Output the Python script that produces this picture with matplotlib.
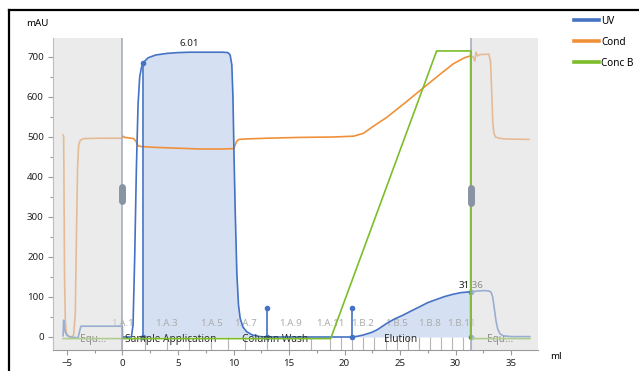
import matplotlib
matplotlib.use("Agg")
import matplotlib.pyplot as plt
import matplotlib.transforms as mtransforms
from matplotlib.lines import Line2D
import numpy as np

plt.rcParams["font.family"] = ["Noto Sans", "DejaVu Sans"]

# UV trace (mAU)
uv_ml = [-5.35, -5.3, -5.25, -5.15, -5.0, -4.7, -4.0, -3.9, -3.75, -0.02, 0.0, 0.8, 0.95,
         1.1, 1.25, 1.4, 1.55, 1.7, 1.88, 2.3, 3.0, 4.0, 5.0, 6.01, 7.5, 9.0, 9.5, 9.7, 9.85,
         9.95, 10.05, 10.15, 10.3, 10.45, 10.6, 10.85, 11.2, 11.7, 12.4, 13.0, 16.0, 20.7,
         21.2, 21.7, 22.5, 23.0, 23.8, 24.5, 25.3, 26.0, 26.8, 27.5, 28.3, 29.0, 29.8, 30.5,
         31.36, 32.0, 32.6, 33.0, 33.2, 33.35, 33.5, 33.65, 33.8, 34.0, 34.3, 35.0, 36.7]
uv_mau = [3, 42, 25, 12, 4, 0, -2, 10, 27, 27, 0, 0, 30,
          200, 420, 580, 650, 673, 686, 698, 705, 709, 711, 712, 712, 712, 711, 705, 680,
          600, 450, 320, 160, 80, 47, 25, 13, 5, 1, 0, 0, 0,
          2, 5, 12, 19, 34, 45, 55, 65, 76, 86, 94, 101, 107, 111,
          113, 115, 116, 115, 112, 100, 70, 40, 20, 8, 3, 1, 1]

# Conductivity trace, drawn on the mAU scale
cond_ml = [-5.35, -5.3, -5.27, -5.22, -5.15, -5.05, -4.9, -4.6, -4.4, -4.25, -4.15, -4.05,
           -3.95, -3.8, -3.5, -2.0, -0.05, 0.05, 0.2, 0.5, 1.0, 1.2, 1.4, 1.7, 3.0, 5.0, 7.0,
           9.0, 10.0, 10.15, 10.3, 10.5, 11.0, 13.0, 16.0, 19.0, 20.8, 21.7, 22.5, 23.8, 25.3,
           26.8, 28.3, 29.8, 30.8, 31.36, 31.6, 31.75, 31.85, 32.0, 32.2, 33.0, 33.15, 33.25,
           33.35, 33.45, 33.6, 33.9, 34.5, 36.6]
cond = [505, 500, 380, 150, 40, 10, 2, 0, 5, 60, 250, 420,
        480, 492, 496, 497, 497, 502, 499, 498, 496, 490, 478, 476, 474, 472, 470,
        470, 471, 480, 490, 494, 495, 497, 499, 500, 502, 509, 525, 549, 582,
        616, 650, 683, 698, 703, 700, 690, 712, 703, 706, 707, 690, 620,
        540, 510, 500, 497, 495, 494]

# Gradient, % B
concb_ml = [-5.35, 18.75, 28.3, 31.36, 31.36, 36.7]
concb_pct = [0, 0, 100, 100, 0, 0]

# Peaks and event markers
peak_ret = [6.01, 31.36]
peak_label_y = [733, 130]
peak1_range = (1.88, 12.4)
peak2_range = (20.7, 31.36)
stem_ml = [13.0, 20.7]
stem_top = [72, 72]

# Fractions
frac_ticks = [0, 2, 4, 6, 8, 9.5, 11, 13, 15, 17, 18.7, 19.7, 20.7, 21.7, 22.7, 23.7, 24.7,
              25.7, 26.7, 27.7, 28.7, 29.7, 30.7, 31.36]
frac_names = ["1.A.1", "1.A.3", "1.A.5", "1.A.7", "1.A.9", "1.A.11", "1.B.2", "1.B.5", "1.B.8", "1.B.11"]
frac_label_ml = [0.0, 4.0, 8.0, 11.1, 15.1, 18.7, 21.6, 24.7, 27.7, 30.5]

# Method phases
phase_names = ["Equ...", "Sample Application", "Column Wash", "Elution", "Equ..."]
phase_edges = [-5.35, 0.0, 8.7, 18.8, 31.36, 36.7]

BLUE = "#4472c4"
ORANGE = "#f0913a"
GREEN = "#7cbd2a"
AXC = "#9a9a9a"

fig = plt.figure(figsize=(6.39, 3.71), dpi=100)
ax = fig.add_axes([53 / 639, 21 / 371, 485 / 639, 312 / 371])
ax.set_xlim(-6.26, 37.43)
ax.set_ylim(-32.5, 747.5)

uv_ml = np.array(uv_ml)
uv_mau = np.array(uv_mau)

# peak areas
for lo, hi in (peak1_range, peak2_range):
    m = (uv_ml >= lo) & (uv_ml <= hi)
    ax.fill_between(uv_ml[m], 0, uv_mau[m], color=BLUE, alpha=0.22, lw=0, zorder=1)

ax.plot(cond_ml, cond, color=ORANGE, lw=1.2, zorder=3)
ax.plot(uv_ml, uv_mau, color=BLUE, lw=1.2, zorder=4)

# peak limits and markers
i1 = list(uv_ml).index(peak1_range[0])
i2 = list(uv_ml).index(peak2_range[1])
for x, top in ((uv_ml[i1], uv_mau[i1]), (uv_ml[i2], uv_mau[i2])):
    ax.plot([x, x], [0, top], color=BLUE, lw=1.2, marker="o", ms=3, zorder=4)
ax.plot(peak2_range[0], 0, marker="o", ms=3, color=BLUE, zorder=4)
ax.vlines(stem_ml, 0, stem_top, color=BLUE, lw=1.2, zorder=4)
ax.plot(stem_ml, stem_top, "o", color=BLUE, ms=3, zorder=4)
ax.plot(stem_ml[0], 0, "o", color=BLUE, ms=3, zorder=4)

for x, y in zip(peak_ret, peak_label_y):
    ax.text(x, y, f"{x:.2f}", ha="center", va="center", fontsize=7, color="#222222", zorder=4)

# fraction marks
ax.vlines(frac_ticks, -32.5, 0, color="#b5b5b5", lw=0.8, zorder=1)
for name, x in zip(frac_names, frac_label_ml):
    ax.text(x, 35, name, ha="center", va="center", fontsize=7, color="#ababab", zorder=2)

# phase names
for i, name in enumerate(phase_names):
    xc = (phase_edges[i] + phase_edges[i + 1]) / 2
    ax.text(xc, -6, name, ha="center", va="center", fontsize=7.3, color="#2a2a2a", zorder=5)

# axes styling
for s in ("top", "right"):
    ax.spines[s].set_visible(False)
for s in ("left", "bottom"):
    ax.spines[s].set_color(AXC)
    ax.spines[s].set_linewidth(0.8)
ax.set_xticks(np.arange(-5, 36, 5))
ax.set_xticks(np.arange(-5, 37.5, 2.5), minor=True)
ax.set_yticks(np.arange(0, 701, 100))
ax.set_yticks(np.arange(0, 740, 50), minor=True)
ax.tick_params(which="both", colors=AXC, labelcolor="#222222", labelsize=7, width=0.8)
ax.tick_params(which="major", length=3.6, pad=3)
ax.tick_params(which="minor", length=2.5)
ax.text(-0.01, 1.048, "mAU", transform=ax.transAxes, fontsize=7, ha="right", va="center")
ax.text(1.025, -0.022, "ml", transform=ax.transAxes, fontsize=7, ha="left", va="center")

# gradient on its own scale
ax2 = ax.twinx()
ax2.set_ylim(-3.96, 104.5)
ax2.set_axis_off()
ax2.plot(concb_ml, concb_pct, color=GREEN, lw=1.2, zorder=2)

# equilibration overlays and boundary handles
trans = mtransforms.blended_transform_factory(ax2.transData, ax2.transAxes)
ax2.axvspan(-6.26, 0, color="#dcdcdc", alpha=0.57, lw=0, zorder=5)
ax2.axvspan(31.36, 37.43, color="#dcdcdc", alpha=0.57, lw=0, zorder=5)
ax2.axvline(0, color="#a8b0bc", lw=1.2, zorder=6)
ax2.axvline(31.36, color="#a8b0bc", lw=1.2, zorder=6)
ax2.plot([31.36, 31.36], [0, 100], color=GREEN, lw=1.2, zorder=6)
for x, yc in ((0, 0.50), (31.36, 0.494)):
    ax2.plot([x, x], [yc - 0.024, yc + 0.024], transform=trans, color="#8893a3",
             lw=5, solid_capstyle="round", zorder=7)

# legend
handles = [Line2D([], [], color=BLUE, lw=2.6), Line2D([], [], color=ORANGE, lw=2.6),
           Line2D([], [], color=GREEN, lw=2.6)]
fig.legend(handles, ["UV", "Cond", "Conc B"], loc="upper left", bbox_to_anchor=(0.884, 0.982),
           frameon=False, fontsize=7.2, handlelength=2.5, handletextpad=0.2, labelspacing=1.0)

# outer frame
fig.add_artist(Line2D([9 / 639, 1], [1 - 10 / 371] * 2, transform=fig.transFigure, color="black", lw=1.6))
fig.add_artist(Line2D([9 / 639] * 2, [0, 1 - 10 / 371], transform=fig.transFigure, color="black", lw=1.6))

fig.savefig("out.png", dpi=100)
